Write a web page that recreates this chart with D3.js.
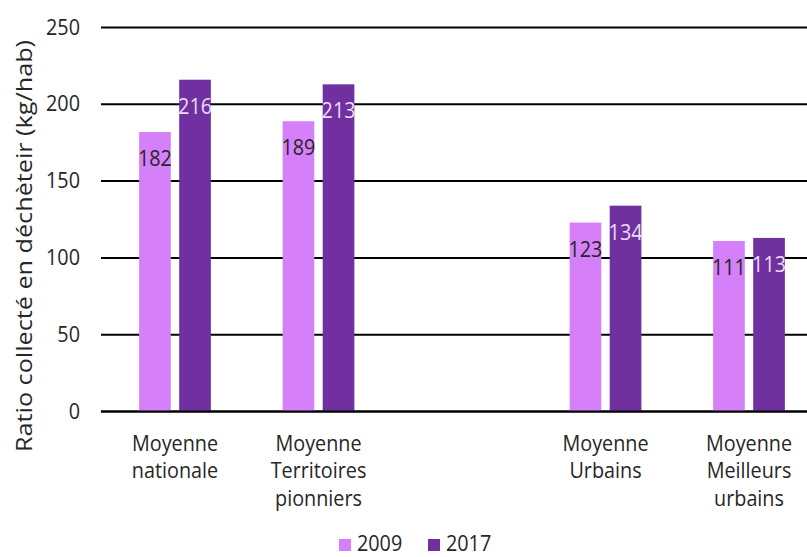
<!DOCTYPE html>
<html>
<head>
<meta charset="utf-8">
<script src="https://cdn.jsdelivr.net/npm/d3@7"></script>
<style>
  html, body { margin: 0; padding: 0; background: #fff; }
  svg { display: block; }
  text { font-family: "Open Sans", sans-serif; }
</style>
</head>
<body>
<div id="chart"></div>
<script>
// ---- data ----
const categories = ["Moyenne nationale", "Moyenne Territoires pionniers", "", "Moyenne Urbains", "Moyenne Meilleurs urbains"];
const categoryLines = [["Moyenne", "nationale"], ["Moyenne", "Territoires", "pionniers"], [], ["Moyenne", "Urbains"], ["Moyenne", "Meilleurs", "urbains"]];
const seriesNames = ["2009", "2017"];
const values2009 = [182, 189, null, 123, 111];
const values2017 = [216, 213, null, 134, 113];
const yTicks = [0, 50, 100, 150, 200, 250];
const yTitle = "Ratio collecté en déchèteir (kg/hab)";

// ---- setup ----
const W = 807, H = 557;
const colors = { "2009": "#D580F9", "2017": "#7030A0" };
const labelColors = { "2009": "#262626", "2017": "#EBDDF5" };
const SX = 0.9; // horizontal text compression
const FS = 22;

const svg = d3.select("#chart").append("svg").attr("width", W).attr("height", H);

const x0 = d3.scaleBand().domain(d3.range(categories.length)).range([103.25, 820.75])
  .paddingInner(0.5).paddingOuter(0.25);
const x1 = d3.scaleBand().domain(seriesNames).range([0, x0.bandwidth()]).paddingInner(0.21);
const y = d3.scaleLinear().domain([0, 250]).range([411.5, 27.5]);

function txt(g, xx, yy, s, anchor, rot, fs) {
  return g.append("text")
    .attr("transform", `translate(${xx},${yy}) scale(${SX},1)` + (rot ? " rotate(-90)" : ""))
    .attr("text-anchor", anchor)
    .attr("font-size", fs || FS)
    .text(s);
}

// gridlines
const grid = svg.append("g");
yTicks.forEach(t => {
  grid.append("line")
    .attr("x1", 101).attr("x2", W)
    .attr("y1", y(t)).attr("y2", y(t))
    .attr("stroke", "#000").attr("stroke-width", 2);
});

// y tick labels
const yl = svg.append("g").attr("fill", "#262626");
yTicks.forEach(t => txt(yl, 80, y(t) + 7, String(t), "end"));

// y title
txt(svg.append("g").attr("fill", "#262626"), 32, 246, yTitle, "middle", true, 25.2);

// data rows
const rows = categories.map((c, i) => ({ i, c, "2009": values2009[i], "2017": values2017[i] }));

const groups = svg.append("g").selectAll("g").data(rows).join("g")
  .attr("transform", d => `translate(${x0(d.i)},0)`);

groups.selectAll("rect").data(d => seriesNames.filter(s => d[s] != null).map(s => ({ s, v: d[s] })))
  .join("rect")
  .attr("x", d => x1(d.s))
  .attr("width", x1.bandwidth())
  .attr("y", d => y(d.v))
  .attr("height", d => y(0) - y(d.v))
  .attr("fill", d => colors[d.s]);

groups.each(function(d) {
  const g = d3.select(this);
  seriesNames.forEach(s => {
    if (d[s] == null) return;
    txt(g, x1(s) + x1.bandwidth() / 2, y(d[s]) + 34, String(d[s]), "middle")
      .attr("fill", labelColors[s]);
  });
});

// axis line at 0 drawn on top
svg.append("line").attr("x1", 101).attr("x2", W).attr("y1", y(0)).attr("y2", y(0))
  .attr("stroke", "#000").attr("stroke-width", 2);

// category labels
const cl = svg.append("g").attr("fill", "#262626");
categoryLines.forEach((lines, i) => {
  lines.forEach((ln, k) => {
    txt(cl, x0(i) + x0.bandwidth() / 2, 451 + k * 27.3, ln, "middle");
  });
});

// legend
const lg = svg.append("g").attr("fill", "#262626");
const legendX = [339, 428];
seriesNames.forEach((s, k) => {
  lg.append("rect").attr("x", legendX[k]).attr("y", 539).attr("width", 12).attr("height", 12)
    .attr("fill", colors[s]);
  txt(lg, legendX[k] + 18, 551, s, "start");
});
</script>
</body>
</html>
